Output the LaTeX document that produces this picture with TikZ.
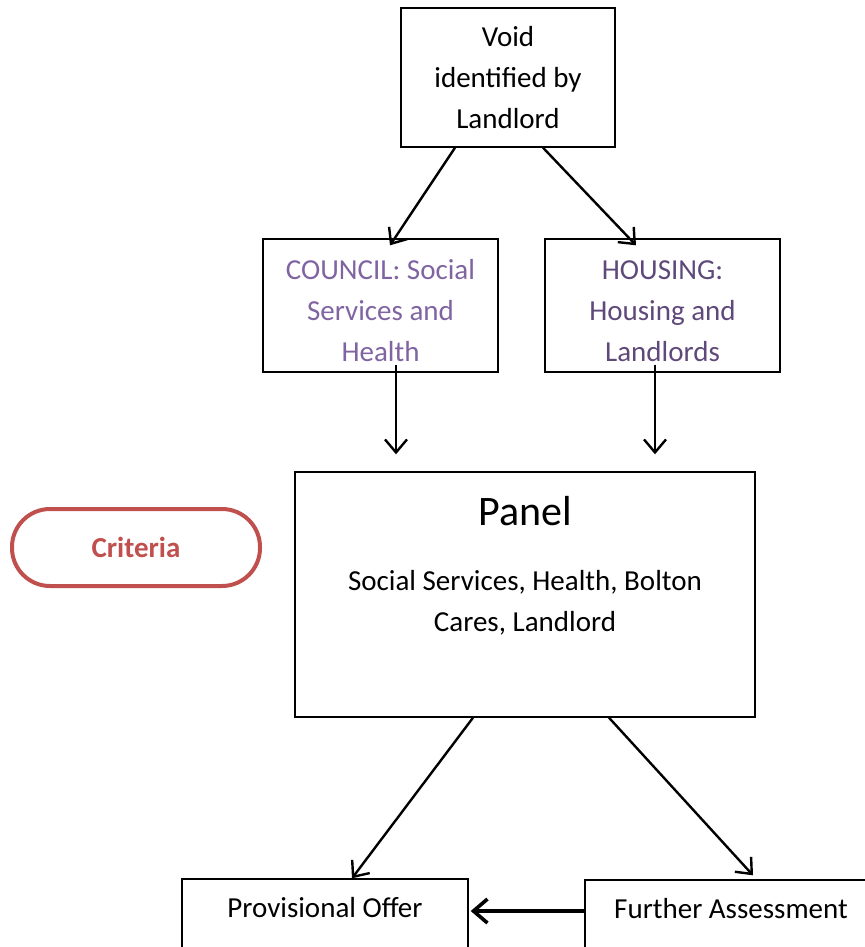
\documentclass[tikz,border=0pt]{standalone}
\usepackage{fontspec}
\setmainfont{Carlito}
\usepackage{tikz}
\usetikzlibrary{calc,positioning,arrows.meta}
\definecolor{councilpurple}{RGB}{128,100,162}
\definecolor{housingpurple}{RGB}{95,73,122}
\definecolor{criteriared}{RGB}{192,80,77}
\tikzset{
  flowbox/.style={draw,line width=0.7pt,align=center,inner sep=0pt,
    font=\fontsize{14.5}{20.5}\selectfont},
  lowbox/.style={draw,line width=0.7pt,inner xsep=0pt,inner ysep=6pt,
    minimum width=143pt,text height=13pt,text depth=14pt,
    font=\fontsize{14.5}{20.5}\selectfont},
  flowarrow/.style={-{Straight Barb[length=6.5pt,width=11pt]},line width=1.2pt},
}

\begin{document}
\begin{tikzpicture}[x=0.5pt,y=-0.5pt]
        \useasboundingbox (0,0) rectangle (865,947);
        \node[flowbox,minimum width=107pt,minimum height=69.5pt] (void) at (508,77.5)
          {Void\\identified by\\Landlord};
        \node[flowbox,minimum width=117.5pt,minimum height=66.5pt,text height=56pt,text=councilpurple]
          (council) at (380.5,305.5) {COUNCIL: Social\\Services and\\Health};
        \node[flowbox,minimum width=117.5pt,minimum height=66.5pt,text height=56pt,text=housingpurple]
          (housing) at (662.5,305.5) {HOUSING:\\Housing and\\Landlords};
        \node[flowbox,minimum width=230pt,minimum height=122.5pt] (panel) at (525,594.5) {};
        \node[font=\fontsize{21}{25}\selectfont] (paneltitle) at (525,511) {Panel};
        \node[align=center,font=\fontsize{14.5}{20.5}\selectfont] (panelbody) at (525,602.5)
          {Social Services, Health, Bolton\\Cares, Landlord};
        \node[draw=criteriared,line width=2pt,rounded corners=19pt,minimum width=124pt,
          minimum height=38.5pt,text=criteriared,font=\fontsize{14.5}{17}\selectfont\bfseries]
          (criteria) at (136,547.5) {Criteria};
        \node[lowbox,anchor=base] (prov) at (325,917) {Provisional Offer};
        \node[lowbox,anchor=base,minimum width=146pt] (further) at (731,918) {Further Assessment};
        % connectors
        \draw[flowarrow] ([xshift=-26.5pt]void.south) -- ([xshift=4.75pt,yshift=-3.5pt]council.north);
        \draw[flowarrow] ([xshift=17.5pt]void.south) -- ([xshift=-13.25pt,yshift=-3.5pt]housing.north);
        \draw[flowarrow] ([xshift=7.75pt,yshift=4pt]council.south) -- ([xshift=-64.5pt,yshift=8.5pt]panel.north);
        \draw[flowarrow] ([xshift=-3.75pt,yshift=4pt]housing.south) -- ([xshift=65pt,yshift=8.5pt]panel.north);
        \draw[flowarrow] ([xshift=-26pt]panel.south) -- ([xshift=13.5pt]prov.north);
        \draw[flowarrow] ([xshift=42pt]panel.south) -- ([xshift=11pt,yshift=2pt]further.north);
        \draw[-{Straight Barb[length=7pt,width=12pt]},line width=1.8pt]
          ([yshift=3.5pt]further.base west) -- ([xshift=1pt,yshift=3.5pt]further.base west -| prov.east);
      \end{tikzpicture}
\end{document}
